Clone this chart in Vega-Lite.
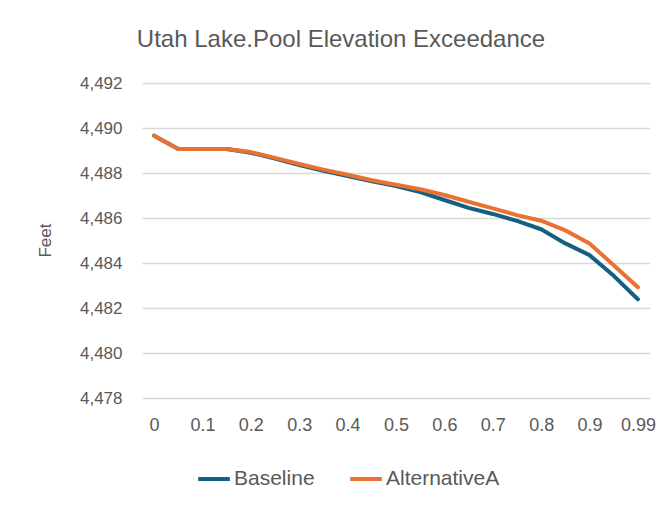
{
  "$schema": "https://vega.github.io/schema/vega-lite/v6.json",
  "width": 508,
  "height": 315,
  "autosize": {"type": "none"},
  "padding": {"left": 142, "top": 83, "right": 21, "bottom": 107},
  "background": "white",
  "config": {
    "view": {"stroke": null},
    "font": "Liberation Sans, sans-serif"
  },
  "title": {
    "text": "Utah Lake.Pool Elevation Exceedance",
    "anchor": "middle",
    "dx": -55,
    "offset": 22,
    "fontSize": 24,
    "fontWeight": "normal",
    "color": "#595959",
    "font": "Liberation Sans, sans-serif"
  },
  "data": {
    "values": [
      {"p": "0", "series": "Baseline", "feet": 4489.66},
      {"p": "0.05", "series": "Baseline", "feet": 4489.07},
      {"p": "0.1", "series": "Baseline", "feet": 4489.07},
      {"p": "0.15", "series": "Baseline", "feet": 4489.07},
      {"p": "0.2", "series": "Baseline", "feet": 4488.9},
      {"p": "0.25", "series": "Baseline", "feet": 4488.64},
      {"p": "0.3", "series": "Baseline", "feet": 4488.35},
      {"p": "0.35", "series": "Baseline", "feet": 4488.1},
      {"p": "0.4", "series": "Baseline", "feet": 4487.87},
      {"p": "0.45", "series": "Baseline", "feet": 4487.63},
      {"p": "0.5", "series": "Baseline", "feet": 4487.42},
      {"p": "0.55", "series": "Baseline", "feet": 4487.15},
      {"p": "0.6", "series": "Baseline", "feet": 4486.8},
      {"p": "0.65", "series": "Baseline", "feet": 4486.45},
      {"p": "0.7", "series": "Baseline", "feet": 4486.18},
      {"p": "0.75", "series": "Baseline", "feet": 4485.87},
      {"p": "0.8", "series": "Baseline", "feet": 4485.5},
      {"p": "0.85", "series": "Baseline", "feet": 4484.87},
      {"p": "0.9", "series": "Baseline", "feet": 4484.35},
      {"p": "0.95", "series": "Baseline", "feet": 4483.43},
      {"p": "0.99", "series": "Baseline", "feet": 4482.39},
      {"p": "0", "series": "AlternativeA", "feet": 4489.66},
      {"p": "0.05", "series": "AlternativeA", "feet": 4489.07},
      {"p": "0.1", "series": "AlternativeA", "feet": 4489.07},
      {"p": "0.15", "series": "AlternativeA", "feet": 4489.07},
      {"p": "0.2", "series": "AlternativeA", "feet": 4488.93},
      {"p": "0.25", "series": "AlternativeA", "feet": 4488.67},
      {"p": "0.3", "series": "AlternativeA", "feet": 4488.4},
      {"p": "0.35", "series": "AlternativeA", "feet": 4488.15},
      {"p": "0.4", "series": "AlternativeA", "feet": 4487.92},
      {"p": "0.45", "series": "AlternativeA", "feet": 4487.68},
      {"p": "0.5", "series": "AlternativeA", "feet": 4487.48},
      {"p": "0.55", "series": "AlternativeA", "feet": 4487.28},
      {"p": "0.6", "series": "AlternativeA", "feet": 4487.02},
      {"p": "0.65", "series": "AlternativeA", "feet": 4486.72},
      {"p": "0.7", "series": "AlternativeA", "feet": 4486.43},
      {"p": "0.75", "series": "AlternativeA", "feet": 4486.13},
      {"p": "0.8", "series": "AlternativeA", "feet": 4485.88},
      {"p": "0.85", "series": "AlternativeA", "feet": 4485.45},
      {"p": "0.9", "series": "AlternativeA", "feet": 4484.87},
      {"p": "0.95", "series": "AlternativeA", "feet": 4483.9},
      {"p": "0.99", "series": "AlternativeA", "feet": 4482.92}
    ]
  },
  "mark": {"type": "line", "strokeWidth": 4, "strokeCap": "round", "strokeJoin": "round"},
  "encoding": {
    "x": {
      "field": "p",
      "type": "ordinal",
      "sort": null,
      "scale": {"type": "point", "padding": 0.5},
      "axis": {
        "title": null,
        "values": ["0", "0.1", "0.2", "0.3", "0.4", "0.5", "0.6", "0.7", "0.8", "0.9", "0.99"],
        "labelAngle": 0,
        "labelFontSize": 18,
        "labelColor": "#595959",
        "labelPadding": 18,
        "ticks": false,
        "domain": false,
        "grid": false
      }
    },
    "y": {
      "field": "feet",
      "type": "quantitative",
      "scale": {"domain": [4478, 4492], "nice": false, "zero": false},
      "axis": {
        "title": "Feet",
        "titleFontSize": 17,
        "titleFontWeight": "normal",
        "titleColor": "#595959",
        "titleX": -97,
        "titleY": 157,
        "titleAngle": -90,
        "titleBaseline": "middle",
        "titleAlign": "center",
        "values": [4478, 4480, 4482, 4484, 4486, 4488, 4490, 4492],
        "format": ",d",
        "labelFontSize": 17,
        "labelColor": "#595959",
        "labelPadding": 20,
        "ticks": false,
        "domain": false,
        "gridColor": "#D9D9D9",
        "gridWidth": 1.3
      }
    },
    "color": {
      "field": "series",
      "type": "nominal",
      "sort": ["Baseline", "AlternativeA"],
      "scale": {"domain": ["Baseline", "AlternativeA"], "range": ["#156082", "#E97132"]},
      "legend": {
        "title": null,
        "orient": "none",
        "direction": "horizontal",
        "legendX": 54,
        "legendY": 378,
        "symbolType": "stroke",
        "symbolStrokeWidth": 4,
        "symbolSize": 1000,
        "labelFontSize": 21,
        "labelColor": "#595959",
        "labelOffset": 2,
        "columnPadding": 27
      }
    }
  }
}
